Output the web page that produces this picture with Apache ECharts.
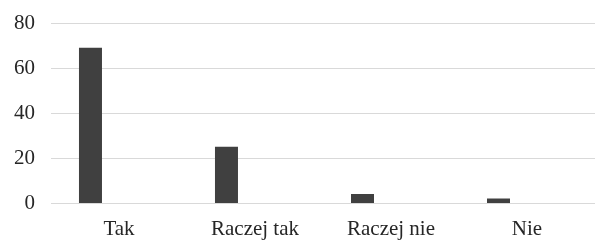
<!DOCTYPE html>
<html>
<head>
<meta charset="utf-8">
<script src="https://cdn.jsdelivr.net/npm/echarts@6/dist/echarts.min.js"></script>
<style>
  html, body { margin: 0; padding: 0; background: #fff; }
  #chart { width: 595px; height: 240px; }
</style>
</head>
<body>
<div id="chart"></div>
<script>
// dane
var kategorie = ['Tak', 'Raczej tak', 'Raczej nie', 'Nie'];
var wartosci = [69, 25, 4, 2];
var pusta = ['-', '-', '-', '-'];
var osY = { min: 0, max: 80, interval: 20 };

var chart = echarts.init(document.getElementById('chart'));

var option = {
    animation: false,
    textStyle: { fontFamily: 'Liberation Serif' },
    grid: { left: 51, top: 23, width: 550, height: 180 },
    xAxis: {
        type: 'category',
        data: kategorie,
        axisLine: { show: false },
        axisTick: { show: false },
        axisLabel: { color: '#262626', fontSize: 21, fontFamily: 'Liberation Serif', margin: 16 }
    },
    yAxis: {
        type: 'value',
        min: osY.min,
        max: osY.max,
        interval: osY.interval,
        axisLine: { show: false },
        axisTick: { show: false },
        axisLabel: { color: '#262626', fontSize: 21, fontFamily: 'Liberation Serif', margin: 16 },
        splitLine: { lineStyle: { color: '#d9d9d9', width: 1 } }
    },
    series: [
        {
            type: 'bar',
            data: wartosci,
            barWidth: 23,
            barGap: '148%',
            itemStyle: { color: '#404040' }
        },
        {
            type: 'bar',
            data: pusta,
            barWidth: 23,
            itemStyle: { color: '#a5a5a5' }
        }
    ]
};

chart.setOption(option);
</script>
</body>
</html>
